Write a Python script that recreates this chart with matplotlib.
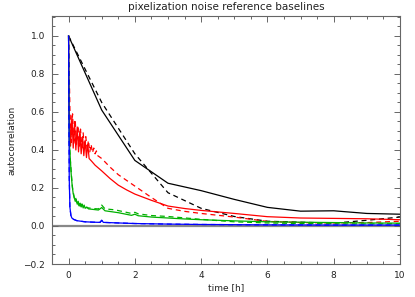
import matplotlib
matplotlib.use("Agg")
import matplotlib.pyplot as plt
from matplotlib.ticker import MultipleLocator

# ---------------- data ----------------
t_black = [0, 1, 2, 3, 4, 5, 6, 7, 8, 9, 10]
black_solid = [1.0, 0.61, 0.345, 0.225, 0.186, 0.14, 0.098, 0.078, 0.08, 0.066, 0.062]
black_dashed = [1.0, 0.65, 0.38, 0.175, 0.093, 0.05, 0.025, 0.02, 0.015, 0.03, 0.047]

t_red_solid = [0, 0.02, 0.06, 0.10, 0.14, 0.18, 0.22, 0.26, 0.30, 0.34, 0.38, 0.42,
               0.46, 0.50, 0.54, 0.58, 0.62, 0.70, 0.80, 0.90, 1.0, 1.25, 1.5, 1.75,
               2.0, 2.5, 3.0, 3.5, 4.0, 5.0, 6.0, 7.0, 8.0, 9.0, 10.0]
red_solid = [1.0, 0.61, 0.42, 0.58, 0.41, 0.55, 0.40, 0.52, 0.39, 0.50, 0.38, 0.47,
             0.37, 0.45, 0.36, 0.43, 0.355, 0.34, 0.32, 0.305, 0.29, 0.25, 0.215, 0.19,
             0.168, 0.135, 0.105, 0.092, 0.082, 0.066, 0.049, 0.042, 0.040, 0.038, 0.033]

t_red_dashed = [0, 0.04, 0.08, 0.12, 0.16, 0.20, 0.24, 0.28, 0.32, 0.36, 0.40, 0.44,
                0.48, 0.52, 0.56, 0.60, 0.64, 0.68, 0.72, 0.76, 0.80, 0.84, 0.88, 1.0,
                1.25, 1.5, 1.75, 2.0, 2.5, 3.0, 3.5, 4.0, 5.0, 6.0, 7.0, 8.0, 9.0, 10.0]
red_dashed = [1.0, 0.62, 0.44, 0.59, 0.43, 0.56, 0.43, 0.53, 0.42, 0.51, 0.41, 0.49,
              0.41, 0.47, 0.40, 0.45, 0.39, 0.43, 0.385, 0.41, 0.38, 0.395, 0.37, 0.355,
              0.31, 0.27, 0.24, 0.21, 0.15, 0.093, 0.077, 0.066, 0.047, 0.024, 0.018,
              0.016, 0.018, 0.025]

t_green_solid = [0, 0.02, 0.05, 0.08, 0.11, 0.14, 0.17, 0.20, 0.23, 0.26, 0.29, 0.32,
                 0.35, 0.38, 0.41, 0.44, 0.47, 0.50, 0.55, 0.60, 0.70, 0.80, 0.90, 1.0,
                 1.1, 1.3, 1.5, 1.9, 2.0, 2.1, 2.5, 3.0, 3.5, 4.0, 5.0, 6.0, 7.0, 8.0,
                 9.0, 10.0]
green_solid = [1.0, 0.45, 0.36, 0.27, 0.21, 0.17, 0.15, 0.13, 0.14, 0.115, 0.13, 0.105,
               0.12, 0.10, 0.115, 0.095, 0.11, 0.093, 0.10, 0.09, 0.088, 0.086, 0.084,
               0.097, 0.08, 0.075, 0.07, 0.056, 0.062, 0.054, 0.047, 0.042, 0.037, 0.033,
               0.027, 0.022, 0.02, 0.018, 0.016, 0.015]

t_green_dashed = [0, 0.03, 0.06, 0.09, 0.12, 0.15, 0.18, 0.21, 0.24, 0.27, 0.30, 0.33,
                  0.36, 0.40, 0.45, 0.50, 0.60, 0.70, 0.80, 0.90, 1.0, 1.1, 1.4, 1.9,
                  2.0, 2.1, 2.5, 3.0, 4.0, 5.0, 6.0, 7.0, 8.0, 9.0, 10.0]
green_dashed = [1.0, 0.42, 0.33, 0.26, 0.2, 0.17, 0.14, 0.15, 0.125, 0.135, 0.11, 0.125,
                0.105, 0.115, 0.10, 0.098, 0.095, 0.093, 0.091, 0.09, 0.11, 0.09, 0.085,
                0.066, 0.072, 0.064, 0.055, 0.05, 0.035, 0.022, 0.016, 0.013, 0.011,
                0.011, 0.012]

t_blue = [0, 0.02, 0.04, 0.07, 0.10, 0.15, 0.25, 0.5, 0.75, 0.95, 1.0, 1.05, 1.5, 2.0,
          3.0, 4.0, 6.0, 8.0, 10.0]
blue_solid = [1.0, 0.25, 0.10, 0.055, 0.042, 0.035, 0.028, 0.022, 0.02, 0.019, 0.03,
              0.019, 0.016, 0.013, 0.01, 0.008, 0.006, 0.005, 0.005]
blue_dashed = [1.0, 0.26, 0.10, 0.056, 0.043, 0.035, 0.028, 0.022, 0.02, 0.019, 0.03,
               0.019, 0.016, 0.013, 0.01, 0.008, 0.006, 0.005, 0.005]

title = "pixelization noise reference baselines"
xlabel = "time [h]"
ylabel = "autocorrelation"

# ---------------- figure ----------------
fig = plt.figure(figsize=(4.15, 2.97), dpi=100)
ax = fig.add_axes([52 / 415, 1 - 264 / 297, 348 / 415, 248 / 297])

lw = 0.9
dash = (0, (4, 3))
green = "#00b000"

ax.axhline(0, color="#888888", lw=1.6, zorder=1)

ax.plot(t_black, black_solid, color="black", lw=lw)
ax.plot(t_black, black_dashed, color="black", lw=lw, linestyle=dash)
ax.plot(t_red_solid, red_solid, color="#ff0000", lw=lw)
ax.plot(t_red_dashed, red_dashed, color="#ff0000", lw=lw, linestyle=dash)
ax.plot(t_green_solid, green_solid, color=green, lw=lw)
ax.plot(t_green_dashed, green_dashed, color=green, lw=lw, linestyle=dash)
ax.plot(t_blue, blue_solid, color="#0000ff", lw=lw)
ax.plot(t_blue, blue_dashed, color="#0000ff", lw=lw, linestyle=dash)

ax.set_xlim(-0.5, 10)
ax.set_ylim(-0.2, 1.105)
ax.xaxis.set_major_locator(MultipleLocator(2))
ax.xaxis.set_minor_locator(MultipleLocator(0.5))
ax.yaxis.set_major_locator(MultipleLocator(0.2))
ax.yaxis.set_minor_locator(MultipleLocator(0.05))
ax.set_yticks([-0.2, 0.0, 0.2, 0.4, 0.6, 0.8, 1.0])
ax.set_yticklabels(["\u22120.2", "0.0", "0.2", "0.4", "0.6", "0.8", "1.0"])

edge = "#666666"
for s in ax.spines.values():
    s.set_color(edge)
    s.set_linewidth(0.8)
ax.tick_params(which="both", direction="in", top=True, right=True, color=edge,
               labelsize=6.5, labelcolor="#222222", width=0.7)
ax.tick_params(which="major", length=4, pad=5)
ax.tick_params(which="minor", length=2)

ax.set_title(title, fontsize=7.5, color="#222222", pad=4)
ax.set_xlabel(xlabel, fontsize=6.5, color="#222222", labelpad=2)
ax.set_ylabel(ylabel, fontsize=6.5, color="#222222", labelpad=5)

fig.savefig("out.png", dpi=100)
